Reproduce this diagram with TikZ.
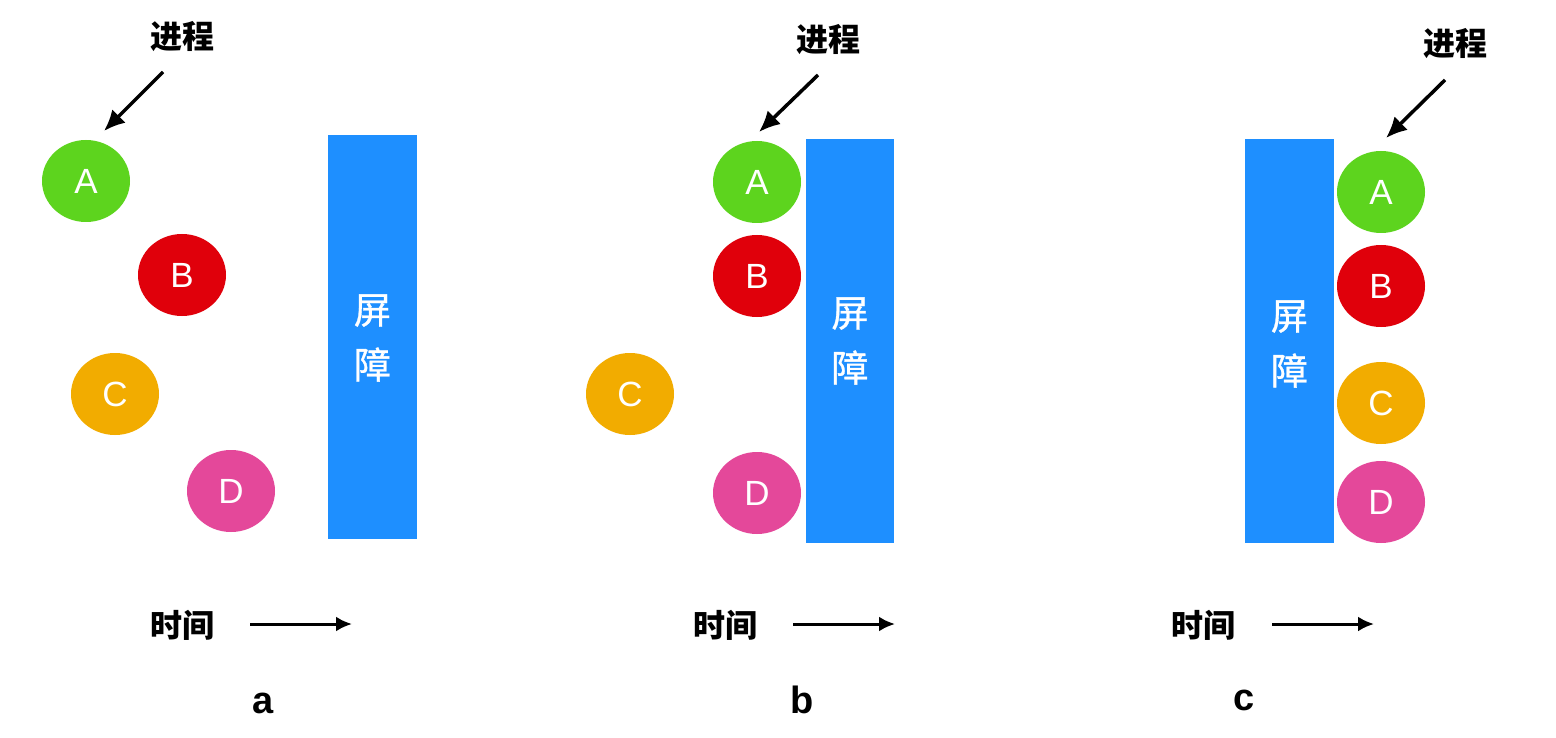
\documentclass[tikz,border=0pt]{standalone}
\usepackage{fontspec}
\setmainfont{Liberation Sans}
\newfontfamily\cjk{Noto Sans CJK SC}
\newfontfamily\cjkm[FakeBold=0.8]{Noto Sans CJK SC}
\usetikzlibrary{shapes.geometric,arrows.meta}
\definecolor{cA}{HTML}{5DD41E}
\definecolor{cB}{HTML}{E0000B}
\definecolor{cC}{HTML}{F2AC00}
\definecolor{cD}{HTML}{E4489A}
\definecolor{cBar}{HTML}{1E8FFF}
\tikzset{
  proc/.style={ellipse, minimum width=88pt, minimum height=82pt, inner sep=0pt, text=white, font=\fontsize{35}{35}\selectfont},
  barrier/.style={fill=cBar, draw=none},
  bartext/.style={text=white, font=\cjkm\fontsize{37}{55}\selectfont, align=center},
  label/.style={font=\cjk\bfseries\fontsize{32}{32}\selectfont},
  timelbl/.style={font=\cjk\bfseries\fontsize{32}{32}\selectfont},
  sub/.style={font=\bfseries\fontsize{38}{38}\selectfont},
  ptr/.style={line width=3.5pt, -{Latex[length=21pt,width=19pt]}},
  tarrow/.style={line width=3pt, -{Latex[length=16pt,width=15pt]}}
}
\begin{document}
\begin{tikzpicture}[x=1pt,y=-1pt]
\useasboundingbox[fill=white] (0,0) rectangle (1556,738);
% ---------- panel a ----------
\node[label] (pa) at (182,37) {进程};
\coordinate (pa1) at (163,72);
\coordinate (pa2) at (104,131);
\draw[ptr] (pa1) -- (pa2);
\node[proc, fill=cA] (aA) at (86,181) {A};
\node[proc, fill=cB] (aB) at (182,275) {B};
\node[proc, fill=cC] (aC) at (115,394) {C};
\node[proc, fill=cD] (aD) at (231,491) {D};
\path[barrier] (328,135) rectangle (417,539);
\node[bartext] (abar) at (372.5,338) {屏\\障};
\node[timelbl] (at) at (182,625) {时间};
\coordinate (ta1) at (250,624);
\coordinate (ta2) at (352,624);
\draw[tarrow] (ta1) -- (ta2);
\node[sub] (la) at (263,703) {a};
% ---------- panel b ----------
\node[label] (pb) at (828,40) {进程};
\coordinate (pb1) at (818,75);
\coordinate (pb2) at (759,132);
\draw[ptr] (pb1) -- (pb2);
\node[proc, fill=cA] (bA) at (757,182) {A};
\node[proc, fill=cB] (bB) at (757,276) {B};
\node[proc, fill=cC] (bC) at (630,394) {C};
\node[proc, fill=cD] (bD) at (757,493) {D};
\path[barrier] (806,139) rectangle (894,543);
\node[bartext] (bbar) at (850,341) {屏\\障};
\node[timelbl] (bt) at (725,625) {时间};
\coordinate (tb1) at (793,624);
\coordinate (tb2) at (895,624);
\draw[tarrow] (tb1) -- (tb2);
\node[sub] (lb) at (802,700) {b};
% ---------- panel c ----------
\node[label] (pc) at (1455,44) {进程};
\coordinate (pc1) at (1445,80);
\coordinate (pc2) at (1386,138);
\draw[ptr] (pc1) -- (pc2);
\path[barrier] (1245,139) rectangle (1334,543);
\node[bartext] (cbar) at (1289.5,344) {屏\\障};
\node[proc, fill=cA] (cA) at (1381,192) {A};
\node[proc, fill=cB] (cB) at (1381,286) {B};
\node[proc, fill=cC] (cC) at (1381,403) {C};
\node[proc, fill=cD] (cD) at (1381,502) {D};
\node[timelbl] (ct) at (1203,625) {时间};
\coordinate (tc1) at (1272,624);
\coordinate (tc2) at (1374,624);
\draw[tarrow] (tc1) -- (tc2);
\node[sub] (lc) at (1244,700) {c};
\end{tikzpicture}
\end{document}
